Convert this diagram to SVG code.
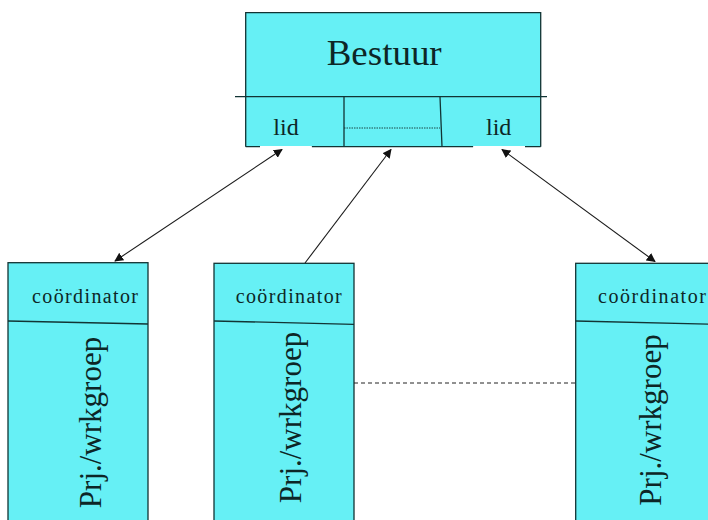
<svg xmlns="http://www.w3.org/2000/svg" width="708" height="520" viewBox="0 0 708 520">
<defs>
<style>
.box{fill:#66F0F5;stroke:#123434;stroke-width:1.3}
.ln{stroke:#123434;stroke-width:1.3;fill:none}
.t{font-family:"Liberation Serif","DejaVu Serif","Times New Roman",serif;fill:#0d2626}
.conn{stroke:#1a1a1a;stroke-width:1.1;fill:none}
</style>
<marker id="ah" viewBox="0 0 10 10" refX="9" refY="5" markerWidth="9" markerHeight="9" markerUnits="userSpaceOnUse" orient="auto-start-reverse">
<path d="M0,0 L10,5 L0,10 z" fill="#111"/>
</marker>
</defs>
<rect width="708" height="520" fill="#fff"/>
<g id="bestuur">
<rect x="245.7" y="12.7" width="295" height="134" fill="#66F0F5"/>
<path class="ln" d="M245.7,146.7 V12.7 H540.7 V146.7"/>
<path class="ln" d="M235,96.7 H547"/>
<path class="ln" d="M344,96.7 V146.7 M440,96.7 L442,146.7"/>
<path d="M344,128 H440" stroke="#123434" stroke-width="0.9" stroke-dasharray="1.5,1"/>
<path class="ln" d="M245.7,146.7 H260 M311.7,146.7 H473.3 M525,146.7 H540.7"/>
<path d="M260,147 H311.7 M473.3,147 H525" stroke="#fff" stroke-width="2"/>
<text class="t" font-family="Liberation Serif, serif" x="326.7" y="65" font-size="36" textLength="115" lengthAdjust="spacingAndGlyphs">Bestuur</text>
<text class="t" font-family="Liberation Serif, serif" x="273.3" y="135" font-size="24">lid</text>
<text class="t" font-family="Liberation Serif, serif" x="486" y="135" font-size="24">lid</text>
</g>
<g id="groep1">
<rect class="box" x="8" y="262.7" width="140" height="270"/>
<path class="ln" d="M8,321 L148,324"/>
<text class="t" font-family="Liberation Serif, serif" x="32" y="303" font-size="20" textLength="106" lengthAdjust="spacing">coördinator</text>
<text class="t" font-family="Liberation Serif, serif" transform="translate(101,422.5) rotate(-90)" text-anchor="middle" font-size="31">Prj./wrkgroep</text>
</g>
<g id="groep2">
<rect class="box" x="214" y="263.3" width="140" height="270"/>
<path class="ln" d="M214,321 L354,324.3"/>
<text class="t" font-family="Liberation Serif, serif" x="235.7" y="303" font-size="20" textLength="106" lengthAdjust="spacing">coördinator</text>
<text class="t" font-family="Liberation Serif, serif" transform="translate(301,417.5) rotate(-90)" text-anchor="middle" font-size="31">Prj./wrkgroep</text>
</g>
<g id="groep3">
<rect class="box" x="575.7" y="263.3" width="140" height="270"/>
<path class="ln" d="M575.7,321 L715.7,324.3"/>
<text class="t" font-family="Liberation Serif, serif" x="598" y="303" font-size="20" textLength="108" lengthAdjust="spacing">coördinator</text>
<text class="t" font-family="Liberation Serif, serif" transform="translate(661,420) rotate(-90)" text-anchor="middle" font-size="31">Prj./wrkgroep</text>
</g>
<g id="connectors">
<line class="conn" x1="115" y1="261" x2="282" y2="149.5" marker-start="url(#ah)" marker-end="url(#ah)"/>
<line class="conn" x1="305" y1="263" x2="391" y2="149.5" marker-end="url(#ah)"/>
<line class="conn" x1="655" y1="261.5" x2="502" y2="149.5" marker-start="url(#ah)" marker-end="url(#ah)"/>
<line x1="354" y1="383" x2="575.7" y2="383" stroke="#222" stroke-width="1" stroke-dasharray="4,3"/>
</g>
</svg>
